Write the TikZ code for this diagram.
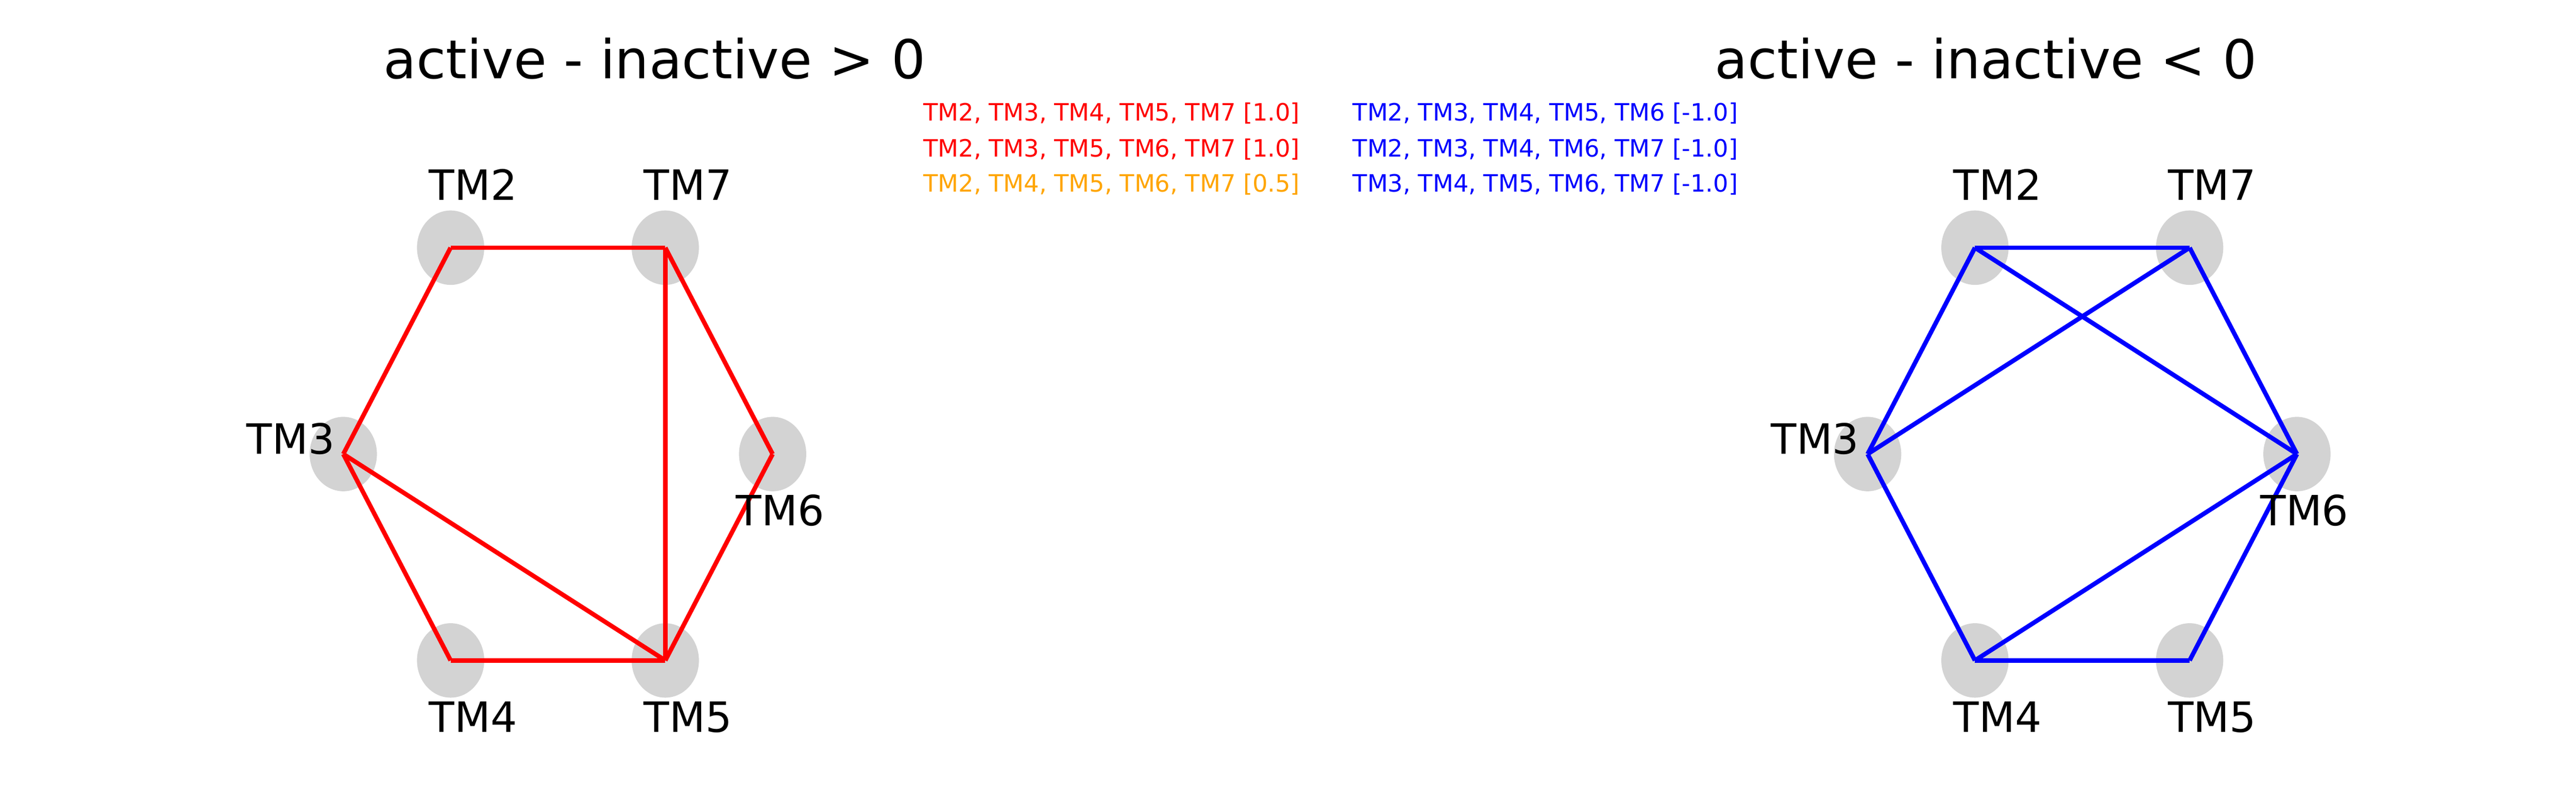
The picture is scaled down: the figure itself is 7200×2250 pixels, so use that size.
\documentclass[tikz,border=0pt]{standalone}
\usepackage{fontspec}
\setmainfont{DejaVu Sans}
\usetikzlibrary{shapes.geometric}
\definecolor{nodegray}{HTML}{D3D3D3}
\definecolor{mplred}{HTML}{FF0000}
\definecolor{mplblue}{HTML}{0000FF}
\definecolor{mplorange}{HTML}{FFA500}
\tikzset{
  tmnode/.style={ellipse, fill=nodegray, draw=none, inner sep=0pt,
    minimum width=45.12bp, minimum height=49.92bp},
  tmlabel/.style={anchor=base west, inner sep=0pt, outer sep=0pt,
    font=\fontsize{28bp}{34bp}\selectfont},
  titlelabel/.style={anchor=base, inner sep=0pt, outer sep=0pt,
    font=\fontsize{36bp}{43bp}\selectfont},
  legendlabel/.style={anchor=base west, inner sep=0pt, outer sep=0pt,
    font=\fontsize{16bp}{19bp}\selectfont},
  posedge/.style={draw=mplred, line width=3bp},
  negedge/.style={draw=mplblue, line width=3bp}
}
\begin{document}
\begin{tikzpicture}[x=0.24bp, y=-0.24bp]
\useasboundingbox[fill=white] (0,0) rectangle (7200,2250);

% ---------- left graph ----------
\node[titlelabel] (tl) at (1829.5,220) {active - inactive > 0};
\node[tmnode] (L2) at (1259.5,692.5) {};
\node[tmnode] (L7) at (1859.5,692.5) {};
\node[tmnode] (L3) at (959.5,1269.5) {};
\node[tmnode] (L6) at (2159.5,1269.5) {};
\node[tmnode] (L4) at (1259.5,1846.5) {};
\node[tmnode] (L5) at (1859.5,1846.5) {};
\draw[posedge] (L2.center) -- (L7.center);
\draw[posedge] (L2.center) -- (L3.center);
\draw[posedge] (L7.center) -- (L5.center);
\draw[posedge] (L7.center) -- (L6.center);
\draw[posedge] (L3.center) -- (L5.center);
\draw[posedge] (L3.center) -- (L4.center);
\draw[posedge] (L4.center) -- (L5.center);
\draw[posedge] (L6.center) -- (L5.center);
\node[tmlabel] (L2t) at (1199.5,559) {TM2};
\node[tmlabel] (L7t) at (1799.5,559) {TM7};
\node[tmlabel] (L3t) at (689.5,1270) {TM3};
\node[tmlabel] (L6t) at (2057.5,1470) {TM6};
\node[tmlabel] (L4t) at (1199.5,2047) {TM4};
\node[tmlabel] (L5t) at (1799.5,2047) {TM5};

% ---------- legend ----------
\node[legendlabel, text=mplred] (p1) at (2581,337) {TM2, TM3, TM4, TM5, TM7 [1.0]};
\node[legendlabel, text=mplred] (p2) at (2581,438) {TM2, TM3, TM5, TM6, TM7 [1.0]};
\node[legendlabel, text=mplorange] (p3) at (2581,537) {TM2, TM4, TM5, TM6, TM7 [0.5]};
\node[legendlabel, text=mplblue] (n1) at (3781,337) {TM2, TM3, TM4, TM5, TM6 [-1.0]};
\node[legendlabel, text=mplblue] (n2) at (3781,438) {TM2, TM3, TM4, TM6, TM7 [-1.0]};
\node[legendlabel, text=mplblue] (n3) at (3781,537) {TM3, TM4, TM5, TM6, TM7 [-1.0]};

% ---------- right graph ----------
\node[titlelabel] (tr) at (5550.5,220) {active - inactive < 0};
\node[tmnode] (R2) at (5520,692.5) {};
\node[tmnode] (R7) at (6120,692.5) {};
\node[tmnode] (R3) at (5220,1269.5) {};
\node[tmnode] (R6) at (6420,1269.5) {};
\node[tmnode] (R4) at (5520,1846.5) {};
\node[tmnode] (R5) at (6120,1846.5) {};
\draw[negedge] (R2.center) -- (R7.center);
\draw[negedge] (R2.center) -- (R3.center);
\draw[negedge] (R2.center) -- (R6.center);
\draw[negedge] (R7.center) -- (R3.center);
\draw[negedge] (R7.center) -- (R6.center);
\draw[negedge] (R3.center) -- (R4.center);
\draw[negedge] (R4.center) -- (R6.center);
\draw[negedge] (R4.center) -- (R5.center);
\draw[negedge] (R5.center) -- (R6.center);
\node[tmlabel] (R2t) at (5460,559) {TM2};
\node[tmlabel] (R7t) at (6060,559) {TM7};
\node[tmlabel] (R3t) at (4950,1270) {TM3};
\node[tmlabel] (R6t) at (6318,1470) {TM6};
\node[tmlabel] (R4t) at (5460,2047) {TM4};
\node[tmlabel] (R5t) at (6060,2047) {TM5};
\end{tikzpicture}
\end{document}
